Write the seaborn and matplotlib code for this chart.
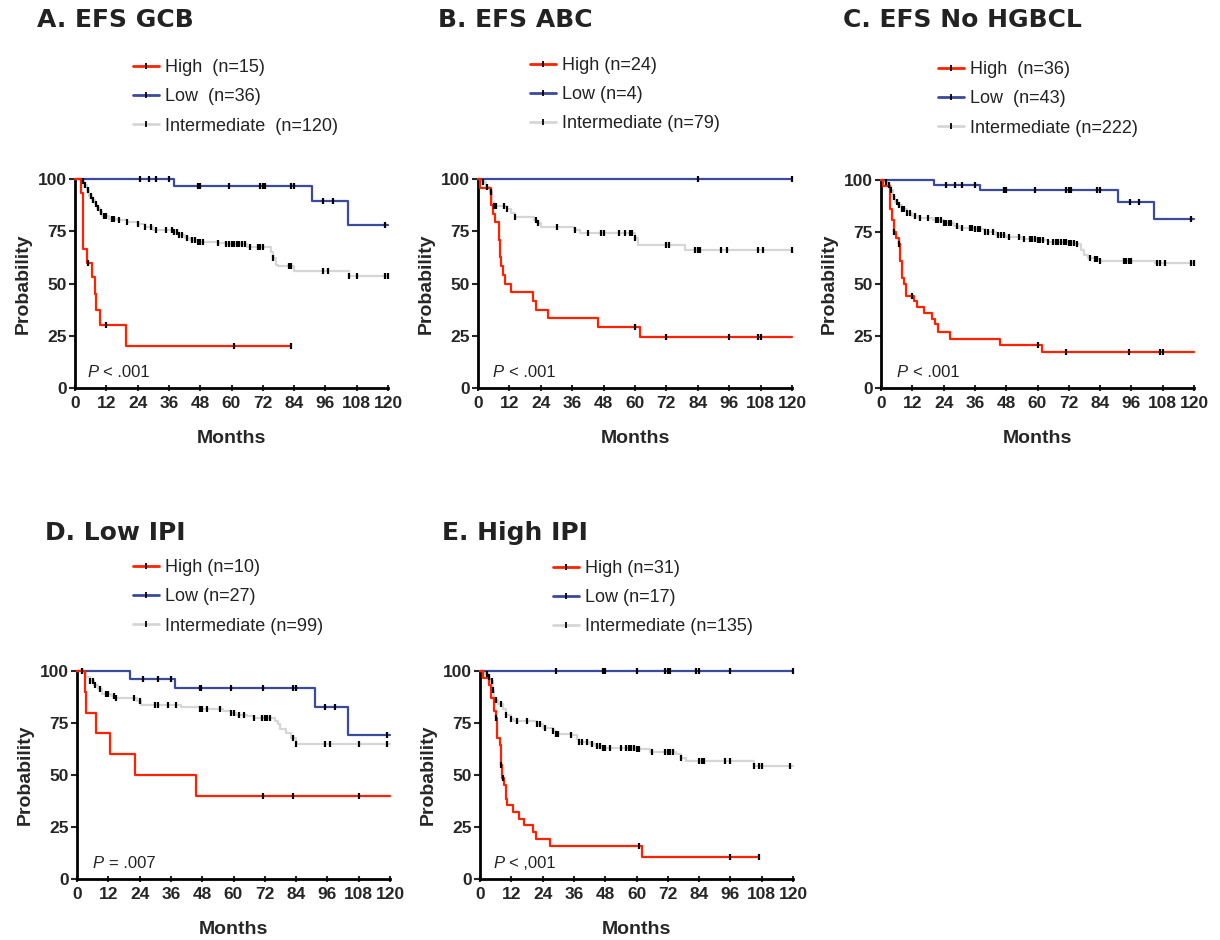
import numpy as np
import matplotlib
matplotlib.use("Agg")
import matplotlib.pyplot as plt
from matplotlib.lines import Line2D
import seaborn as sns

sns.set_style("ticks")
plt.rcParams["font.family"] = ["Liberation Sans", "DejaVu Sans"]

RED = "#ff2200"
BLUE = "#3b4a9c"
GRAY = "#d6d6d6"

# ---- A. EFS GCB ----
a_high_t = [0, 2.3, 3.2, 4.7, 6.6, 7.7, 8.2, 9.5, 19.5, 83]
a_high_s = [100, 93.3, 66.7, 60, 53.3, 45, 37.5, 30, 20, 20]
a_high_c = [4.8, 12, 61, 83]
a_low_t = [0, 38, 91, 104.5, 120]
a_low_s = [100, 96.8, 89.5, 78, 78]
a_low_c = [25, 28.5, 31, 36, 47, 48, 59, 71, 72, 73, 83, 84, 95, 99, 119]
a_int_t = [0, 2.5, 3.5, 4.5, 5.5, 6.5, 7.5, 8.5, 9.5, 10.5, 13, 16, 20, 24, 27, 30,
           38, 40, 42, 44, 47, 55, 58, 66, 75, 76, 77, 78, 84, 105, 120]
a_int_s = [100, 99, 97, 94.5, 92, 90, 88, 86, 84, 82.5, 81, 80.5, 79.5, 78.5, 77, 75.5,
           74.5, 73, 72, 71, 70, 69.5, 69, 67.3, 65, 62, 59, 58.5, 56, 53.5, 53.5]
a_int_c = [3, 4, 5, 6, 7, 8, 9, 10, 11, 12, 14, 15, 17, 20, 24, 27, 29, 31, 35, 37, 38,
           39, 40, 41, 43, 45, 46, 47, 48, 49, 55, 58, 59, 60, 61, 62, 63, 64, 65, 67,
           70, 71, 72, 76, 82, 83, 95, 97, 105, 108, 119, 120]

# ---- B. EFS ABC ----
b_high_t = [0, 0.6, 5.1, 5.7, 6.4, 7.9, 8.3, 8.7, 9.6, 10.2, 12.7, 21, 22.3, 26.8,
            45.9, 61.8, 120]
b_high_s = [100, 95.8, 87.5, 83.3, 79.2, 70.8, 62.5, 58.3, 54.2, 50, 45.8, 41.7, 37.5,
            33.3, 29.2, 24.4, 24.4]
b_high_c = [60, 72, 96, 107, 108]
b_low_t = [0, 120]
b_low_s = [100, 100]
b_low_c = [84, 120]
b_int_t = [0, 1.5, 3, 4.5, 5.3, 6, 11, 12.5, 14, 21.5, 22.5, 24, 36.5, 39, 60, 61, 79, 120]
b_int_s = [100, 98.7, 96.2, 93.7, 89.2, 87.3, 85.8, 83.5, 82, 80.5, 79, 77, 75.5, 74,
           72, 68.5, 66, 66]
b_int_c = [2, 3.5, 5, 6, 7, 10, 11, 14, 22, 23, 30, 37, 42, 47, 48, 54, 56, 58, 59, 60,
           72, 73, 83, 84, 85, 93, 95, 107, 109, 120]

# ---- C. EFS No HGBCL ----
c_high_t = [0, 0.8, 3.3, 4.2, 4.8, 5.9, 6.9, 7.4, 8, 8.7, 9.7, 12.5, 13.8, 16.3, 19.5,
            20.8, 22, 26.5, 45.6, 61.6, 120]
c_high_s = [100, 97.2, 86.1, 80.6, 75, 72.2, 69.4, 61.1, 52.8, 50, 44.4, 41.7, 38.9,
            36.1, 33.3, 30.6, 26.9, 23.7, 20.6, 17.3, 17.3]
c_high_c = [5, 7, 11.9, 60, 71, 95, 107, 108]
c_low_t = [0, 20.5, 38, 91, 104.5, 120]
c_low_s = [100, 97.7, 95, 89.2, 81.2, 81.2]
c_low_c = [25, 28.5, 31, 36, 47, 48, 59, 71, 72, 73, 83, 84, 95.5, 99, 119]
c_int_t = [0, 1.5, 2.5, 3.5, 4.5, 5.5, 6.5, 8, 10, 12, 14, 20, 24, 28, 30, 36, 40, 44,
           48, 54, 60, 64, 72, 75, 76.5, 78, 79.5, 82, 84, 105, 120]
c_int_s = [100, 99, 97.5, 95, 92, 89.5, 88, 86, 84, 82.5, 81.5, 81, 79.5, 78, 77, 76.5,
           75, 73.5, 72.5, 71.5, 71, 70, 69.5, 69, 66.5, 64, 62.5, 61.8, 61, 60, 60]
c_int_c = [2, 3, 4, 5, 6, 7, 8, 9, 10, 11, 13, 15, 18, 21, 22, 23, 24, 25, 26, 27, 29,
           31, 34, 35, 36, 37, 38, 40, 41, 43, 45, 46, 47, 49, 53, 55, 57, 58, 59, 60,
           61, 62, 64, 66, 67, 68, 69, 70, 71, 72, 73, 74, 75, 80, 82, 83, 84, 93, 94,
           95, 96, 106, 107, 109, 119, 120]

# ---- D. Low IPI ----
d_high_t = [0, 3.2, 3.4, 7.4, 12.8, 22.1, 45.7, 120]
d_high_s = [100, 90, 80, 70, 60, 50, 40, 40]
d_high_c = [71.5, 83, 108]
d_low_t = [0, 20.4, 37.4, 91.3, 104, 120]
d_low_s = [100, 96.2, 92, 82.9, 69, 69]
d_low_c = [25.3, 31, 36, 47, 47.6, 59, 71.5, 83, 84, 95, 99, 119]
d_int_t = [0, 2.5, 3.5, 5, 6.5, 8, 9.5, 13, 15, 23, 24.5, 40, 47, 56, 59, 61, 65, 68,
           76, 77, 78, 80, 82, 84, 120]
d_int_s = [100, 98.9, 97, 95, 93.5, 91.4, 89, 88, 86.9, 85.5, 83.7, 82.6, 81.8, 81, 80,
           79, 78.4, 77.3, 76, 74.7, 72, 70, 67.7, 65, 65]
d_int_c = [2, 5, 6, 7, 9, 11, 12, 14, 15, 22, 24, 30, 31, 35, 38, 47, 48, 50, 55, 59,
           60, 62, 64, 68, 71, 72, 73, 74, 83, 84, 95, 97, 108, 119]

# ---- E. High IPI ----
e_high_t = [0, 1, 3.5, 4.2, 5.2, 6, 6.5, 7.5, 8, 8.5, 9.3, 10, 10.5, 12.7, 15, 17, 20.5,
            21.5, 27, 62, 107]
e_high_s = [100, 96.8, 93.5, 87.1, 80.6, 77.4, 67.7, 64.5, 54.8, 48.4, 45.2, 38.7, 35.5,
            32.3, 29, 25.8, 22.6, 19.4, 16.1, 10.7, 10.7]
e_high_c = [6, 8, 9, 60.9, 96, 107]
e_low_t = [0, 120]
e_low_s = [100, 100]
e_low_c = [29, 47, 48, 60, 71, 72, 73, 83, 84, 96, 120]
e_int_t = [0, 2, 3, 4, 4.8, 5.5, 7, 9, 10, 12, 13, 22, 24, 28, 29, 35, 37, 38, 42, 44,
           47, 60, 65, 75, 77, 79, 105, 120]
e_int_s = [100, 98.5, 97, 95, 91, 86, 84, 81.5, 79, 77, 76.2, 74.5, 72.5, 71, 69.5, 69,
           67.5, 66, 65, 64, 63, 62.4, 61, 60.2, 58, 56.5, 54.5, 54.5]
e_int_c = [2.5, 3.5, 4.5, 5, 6, 8, 10, 12, 14, 18, 22, 23, 25, 28, 29, 30, 35, 38, 39,
           41, 43, 45, 46, 47, 48, 50, 54, 56, 57, 58, 59, 60, 61, 66, 71, 72, 73, 74,
           77, 84, 85, 86, 94, 96, 105, 107, 108, 119]

titles = ["A. EFS GCB", "B. EFS ABC", "C. EFS No HGBCL", "D. Low IPI", "E. High IPI"]
legend_labels = [
    ["High  (n=15)", "Low  (n=36)", "Intermediate  (n=120)"],
    ["High (n=24)", "Low (n=4)", "Intermediate (n=79)"],
    ["High  (n=36)", "Low  (n=43)", "Intermediate (n=222)"],
    ["High (n=10)", "Low (n=27)", "Intermediate (n=99)"],
    ["High (n=31)", "Low (n=17)", "Intermediate (n=135)"],
]
p_texts = ["< .001", "< .001", "< .001", "= .007", "< ,001"]

panels = [
    [(a_int_t, a_int_s, a_int_c), (a_low_t, a_low_s, a_low_c), (a_high_t, a_high_s, a_high_c)],
    [(b_int_t, b_int_s, b_int_c), (b_low_t, b_low_s, b_low_c), (b_high_t, b_high_s, b_high_c)],
    [(c_int_t, c_int_s, c_int_c), (c_low_t, c_low_s, c_low_c), (c_high_t, c_high_s, c_high_c)],
    [(d_int_t, d_int_s, d_int_c), (d_low_t, d_low_s, d_low_c), (d_high_t, d_high_s, d_high_c)],
    [(e_int_t, e_int_s, e_int_c), (e_low_t, e_low_s, e_low_c), (e_high_t, e_high_s, e_high_c)],
]
colors = [GRAY, BLUE, RED]

W, H = 1220, 940
# axes boxes in pixels: left, top, right, bottom
boxes = [(75, 179, 388, 388), (478, 179, 792, 388), (881, 180, 1194, 388),
         (77, 671, 390, 879), (480, 671, 793, 879)]
title_pos = [(37, 20), (438, 20), (843, 20), (45, 533), (442, 533)]
legend_pos = [(0.185, 1.574), (0.166, 1.584), (0.182, 1.572), (0.179, 1.538), (0.233, 1.534)]
p_pos = [4.6, 5.7, 6.1, 6.1, 5.0]

fig = plt.figure(figsize=(W / 100, H / 100), dpi=100)

for i, groups in enumerate(panels):
    l, t, r, b = boxes[i]
    ax = fig.add_axes([l / W, 1 - b / H, (r - l) / W, (b - t) / H])
    for (tt, ss, cc), col in zip(groups, colors):
        sns.lineplot(x=tt, y=ss, ax=ax, color=col, lw=1.6, drawstyle="steps-post",
                     estimator=None, clip_on=False, zorder=3)
    for (tt, ss, cc), col in zip(groups, colors):
        idx = np.searchsorted(np.array(tt), np.array(cc), side="right") - 1
        cy = np.array(ss)[idx]
        ax.plot(cc, cy, linestyle="none", marker="|", color="black", ms=5, mew=1.6,
                clip_on=False, zorder=4)

    ax.set_xlim(0, 120)
    ax.set_ylim(0, 100)
    ax.set_xticks(np.arange(0, 121, 12))
    ax.set_yticks([0, 25, 50, 75, 100])
    sns.despine(ax=ax)
    for sp in ["left", "bottom"]:
        ax.spines[sp].set_linewidth(2)
        ax.spines[sp].set_color("black")
    ax.tick_params(axis="x", direction="inout", length=5, width=1.5, pad=3)
    ax.tick_params(axis="y", direction="out", length=4, width=1.5, pad=2)
    for lab in ax.get_xticklabels() + ax.get_yticklabels():
        lab.set_fontweight("bold")
        lab.set_fontsize(12.5)
    ax.set_xlabel("Months", fontsize=14, fontweight="bold", labelpad=14)
    ax.set_ylabel("Probability", fontsize=14, fontweight="bold", labelpad=4)

    ax.text(p_pos[i], 7.5, "P", style="italic", fontsize=12, color="#222222",
            va="center", ha="left")
    ax.text(p_pos[i] + 6.2, 7.5, p_texts[i], fontsize=12, color="#222222",
            va="center", ha="left")

    handles = [Line2D([], [], color=c, lw=2, marker="|", ms=5, mew=1.3,
                      markeredgecolor="black") for c in [RED, BLUE, GRAY]]
    ax.legend(handles, legend_labels[i], loc="upper left", bbox_to_anchor=legend_pos[i],
              frameon=False, fontsize=13, borderpad=0, borderaxespad=0,
              handlelength=1.45, handletextpad=0.3, labelspacing=0.68,
              labelcolor="#222222")

    tx, ty = title_pos[i]
    fig.text(tx / W, 1 - ty / H, titles[i], fontsize=18, fontweight="heavy",
             family="DejaVu Sans", color="#222222", va="center", ha="left")

fig.savefig("out.png", dpi=100)
